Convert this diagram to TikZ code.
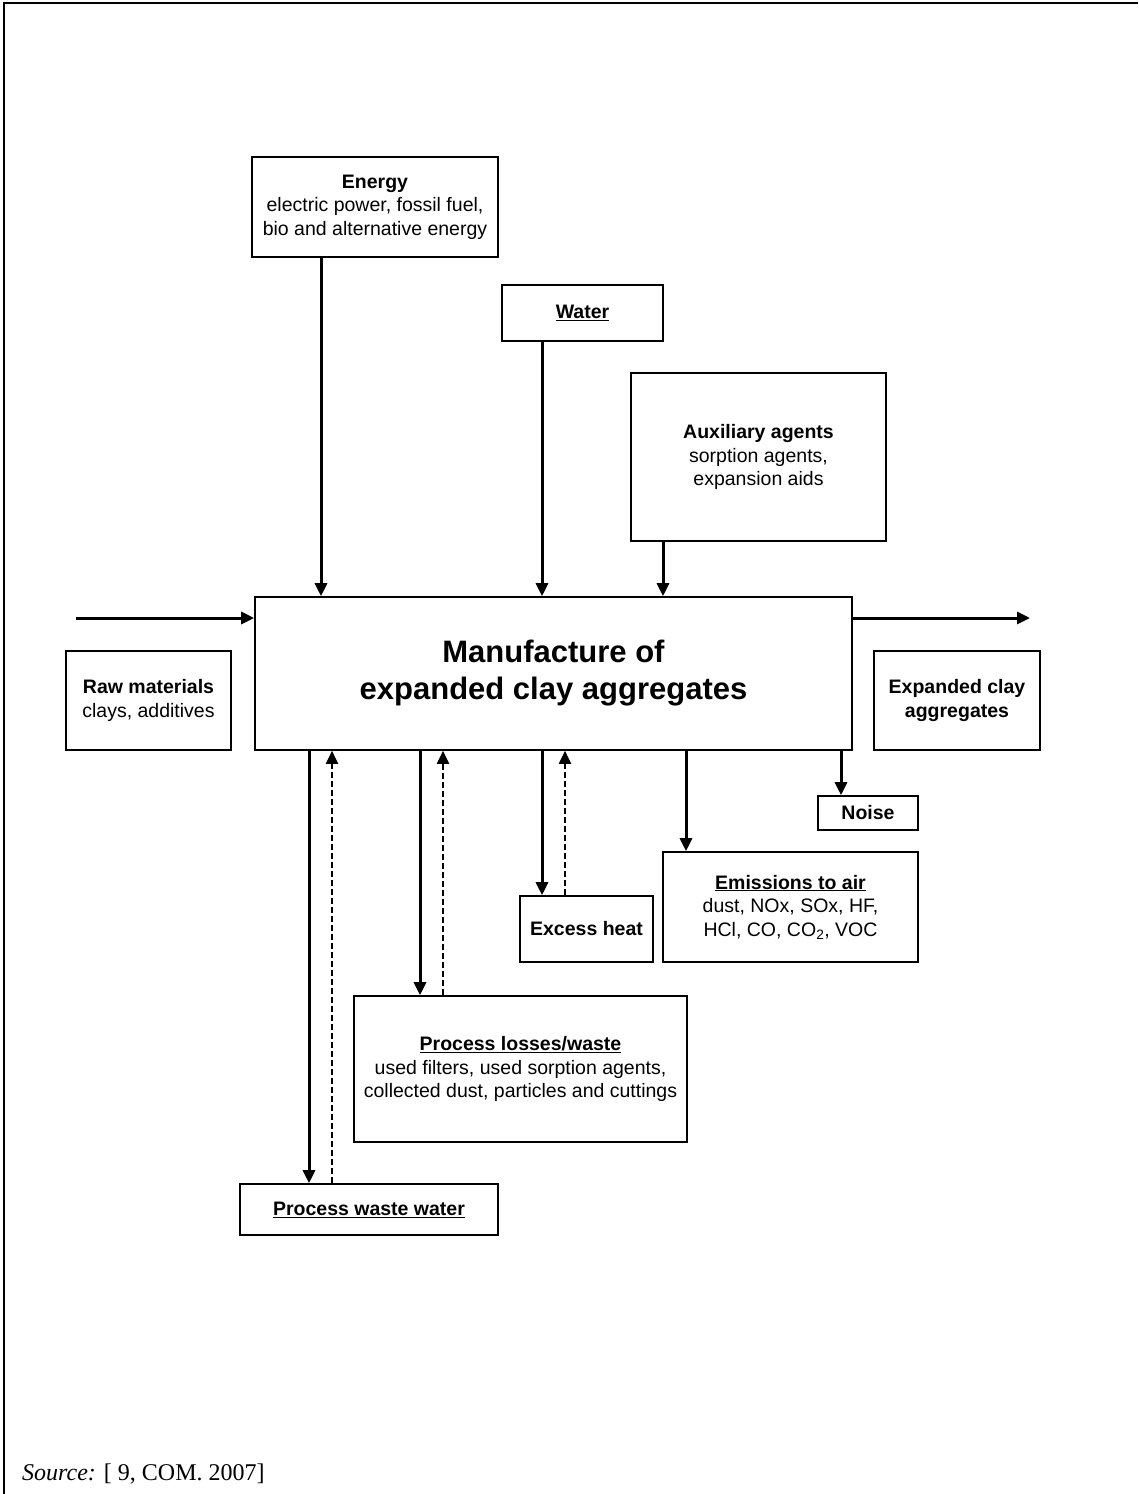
\documentclass[tikz,border=0pt]{standalone}
\usepackage{fontspec}
\setmainfont{Liberation Sans}
\newfontfamily\srcfont{Liberation Serif}
\usetikzlibrary{arrows.meta}
\begin{document}
\begin{tikzpicture}[x=1pt,y=-1pt,
  box/.style={draw, line width=1.6pt, inner sep=0pt, align=center, font=\fontsize{19.5}{23.5}\selectfont},
  arr/.style={line width=3pt, -{Triangle[length=13pt,width=12pt]}},
  darr/.style={line width=2pt, dash pattern=on 6pt off 3pt, -{Triangle[length=13pt,width=12pt]}}]
\useasboundingbox (0,0) rectangle (1138,1494);
\draw[line width=2.5pt] (4,1494) -- (4,3) -- (1138,3);

% boxes
\node[box, minimum width=246pt, minimum height=100pt] (energy) at (375,207)
  {\textbf{Energy}\\electric power, fossil fuel,\\bio and alternative energy};
\node[box, minimum width=161pt, minimum height=56pt] (water) at (582.5,313)
  {\textbf{\underline{Water}}};
\node[box, minimum width=255pt, minimum height=168pt] (aux) at (758.5,457)
  {\textbf{Auxiliary agents}\\sorption agents,\\expansion aids};
\node[box, minimum width=597pt, minimum height=153pt, font=\fontsize{31}{37}\selectfont\bfseries] (main) at (553.5,673.5)
  {Manufacture of\\expanded clay aggregates};
\node[box, minimum width=165pt, minimum height=99pt] (raw) at (148.5,700.5)
  {\textbf{Raw materials}\\clays, additives};
\node[box, minimum width=166pt, minimum height=99pt] (prod) at (957,700.5)
  {\textbf{Expanded clay}\\\textbf{aggregates}};
\node[box, minimum width=100pt, minimum height=34pt] (noise) at (868,813)
  {\textbf{Noise}};
\node[box, minimum width=255pt, minimum height=110pt] (emis) at (790.5,907)
  {\textbf{\underline{Emissions to air}}\\dust, NOx, SOx, HF,\\HCl, CO, CO\textsubscript{2}, VOC};
\node[box, minimum width=133pt, minimum height=66pt] (heat) at (586.5,929)
  {\textbf{Excess heat}};
\node[box, minimum width=333pt, minimum height=146pt] (loss) at (520.5,1069)
  {\textbf{\underline{Process losses/waste}}\\used filters, used sorption agents,\\collected dust, particles and cuttings};
\node[box, minimum width=258pt, minimum height=51pt] (ww) at (369,1209.5)
  {\textbf{\underline{Process waste water}}};

% x positions of connectors
\coordinate (xE) at (321,0);
\coordinate (xW) at (542,0);
\coordinate (xA) at (663,0);
\coordinate (xWW1) at (309,0);
\coordinate (xWW2) at (332,0);
\coordinate (xL1) at (420,0);
\coordinate (xL2) at (443,0);
\coordinate (xH1) at (542,0);
\coordinate (xH2) at (565,0);
\coordinate (xEm) at (686,0);
\coordinate (xN) at (841,0);
\coordinate (inL) at (76,618);
\coordinate (outR) at (1030,618);

% inputs
\draw[arr] (energy.south -| xE) -- (main.north -| xE);
\draw[arr] (water.south -| xW) -- (main.north -| xW);
\draw[arr] (aux.south -| xA) -- (main.north -| xA);
\draw[arr] (inL) -- (main.west |- inL);
\draw[arr] (main.east |- outR) -- (outR);

% outputs
\draw[arr] (main.south -| xWW1) -- (ww.north -| xWW1);
\draw[darr] (ww.north -| xWW2) -- (main.south -| xWW2);
\draw[arr] (main.south -| xL1) -- (loss.north -| xL1);
\draw[darr] (loss.north -| xL2) -- (main.south -| xL2);
\draw[arr] (main.south -| xH1) -- (heat.north -| xH1);
\draw[darr] (heat.north -| xH2) -- (main.south -| xH2);
\draw[arr] (main.south -| xEm) -- (emis.north -| xEm);
\draw[arr] (main.south -| xN) -- (noise.north -| xN);

% source
\node[anchor=base west, inner sep=0pt, font=\srcfont\fontsize{24}{28}\selectfont] (src) at (22,1480)
  {\textit{Source:} [ 9, COM. 2007]};
\end{tikzpicture}
\end{document}
